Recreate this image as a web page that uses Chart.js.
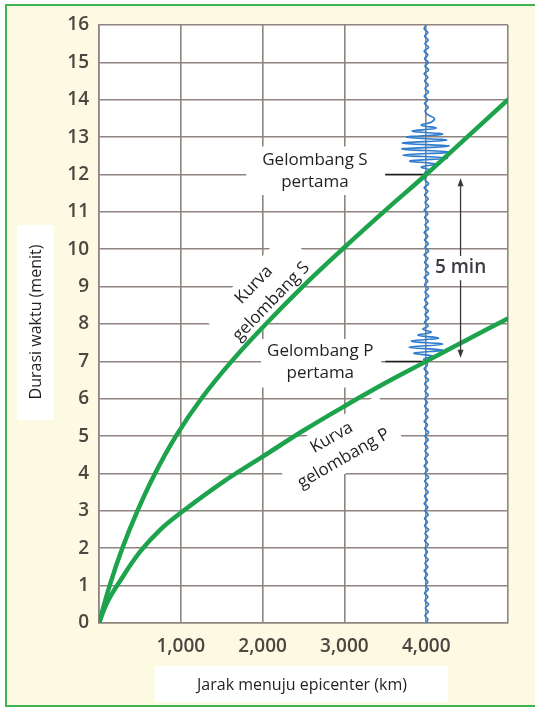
<!DOCTYPE html>
<html>
<head>
<meta charset="utf-8">
<script src="https://cdn.jsdelivr.net/npm/chart.js@4.4.0/dist/chart.umd.js"></script>
<style>
  html, body { margin: 0; padding: 0; background: #fff; }
  #frame {
    position: absolute; left: 5px; top: 4px; width: 560px; height: 699px;
    border: 2px solid #3fb54f; background: #fcfae3;
  }
  #chart { position: absolute; left: 0; top: 0; }
</style>
</head>
<body>
<div id="frame"></div>
<canvas id="chart" width="535" height="708"></canvas>
<script>
// Axis ticks
const xTickLabels = ['', '1,000', '2,000', '3,000', '4,000', '']
const yTickLabels = ['0', '1', '2', '3', '4', '5', '6', '7', '8', '9', '10', '11', '12', '13', '14', '15', '16']

// Kurva gelombang S (jarak km, waktu menit)
const sDist = [0, 130, 285, 470, 685, 940, 1250, 1620, 2040, 2490, 2975, 3480, 4000, 4500, 5000]
const sTime = [0, 1, 2, 3, 4, 5, 6, 7, 8, 9, 10, 11, 12, 13, 14]

// Kurva gelombang P
const pDist = [0, 100, 250, 500, 750, 1000, 1500, 2000, 2500, 3000, 3500, 4000, 4500, 5000]
const pTime = [0, 0.55, 1.1, 1.9, 2.5, 2.95, 3.75, 4.45, 5.15, 5.8, 6.42, 7.0, 7.58, 8.15]

// Seismogram di stasiun 4,000 km: waktu (menit) dan simpangan (km)
const seisStation = 4000
const seisTime = [
  0, 0.1, 0.2, 0.3, 0.4, 0.5, 0.6, 0.7, 0.8, 0.9, 1.0, 1.1, 1.2, 1.3, 1.4, 1.5, 1.6, 1.7, 1.8, 1.9,
  2.0, 2.1, 2.2, 2.3, 2.4, 2.5, 2.6, 2.7, 2.8, 2.9, 3.0, 3.1, 3.2, 3.3, 3.4, 3.5, 3.6, 3.7, 3.8, 3.9,
  4.0, 4.1, 4.2, 4.3, 4.4, 4.5, 4.6, 4.7, 4.8, 4.9, 5.0, 5.1, 5.2, 5.3, 5.4, 5.5, 5.6, 5.7, 5.8, 5.9,
  6.0, 6.1, 6.2, 6.3, 6.4, 6.5, 6.6, 6.7, 6.8, 6.9, 7.0,
  7.06, 7.14, 7.22, 7.3, 7.38, 7.46, 7.54, 7.62, 7.7, 7.78, 7.86,
  7.95, 8.05, 8.15, 8.25, 8.35, 8.45, 8.55, 8.65, 8.75, 8.85, 8.95, 9.05, 9.15, 9.25, 9.35, 9.45,
  9.55, 9.65, 9.75, 9.85, 9.95, 10.05, 10.15, 10.25, 10.35, 10.45, 10.55, 10.65, 10.75, 10.85,
  10.95, 11.05, 11.15, 11.25, 11.35, 11.45, 11.55, 11.65, 11.75, 11.85, 11.95,
  12.05, 12.12, 12.2, 12.28, 12.36, 12.44, 12.52, 12.6, 12.68, 12.76, 12.84, 12.92, 13.0, 13.08,
  13.16, 13.24, 13.32,
  13.4, 13.5, 13.6, 13.7, 13.8, 13.9, 14.0, 14.1, 14.2, 14.3, 14.4, 14.5, 14.6, 14.7, 14.8, 14.9,
  15.0, 15.1, 15.2, 15.3, 15.4, 15.5, 15.6, 15.7, 15.8, 15.9, 16.0
]
const seisOffset = [
  0, 20, -15, 25, -10, 30, -15, 20, -20, 25, -10, 20, -20, 15, -25, 20, -15, 25, -20, 15,
  -15, 25, -20, 20, -15, 30, -20, 15, -20, 25, -15, 20, -25, 15, -20, 25, -15, 20, -20, 30,
  -15, 20, -25, 15, -20, 25, -15, 20, -20, 25, -15, 30, -20, 15, -25, 20, -15, 25, -20, 15,
  -20, 25, -15, 20, -20, 30, -15, 20, -25, 15, 0,
  -30, 80, -150, 200, -210, 200, -180, 150, -100, 60, -40,
  25, -20, 30, -15, 25, -25, 20, -20, 30, -15, 25, -20, 20, -25, 30, -15,
  25, -20, 20, -25, 30, -15, 25, -20, 20, -25, 30, -15, 25, -20,
  20, -25, 30, -15, 25, -20, 20, -25, 30, -15, 0,
  -20, 40, -60, 120, -200, 260, -280, 290, -300, 280, -290, 250, -240, 200,
  -170, 120, -60,
  60, 100, 20, -15, 25, -20, 20, -25, 30, -15, 25, -20, 20, -25, 30, -15,
  25, -20, 20, -25, 30, -15, 25, -20, 20, -25, 0
]

// Garis penunjuk kedatangan gelombang pertama
const leaderDist = [3500, 4000]
const firstS = 12
const firstP = 7

const GREEN = '#1da34c'
const GRID = '#8e8480'
const TICK = '#4e4540'
const INK = '#231f20'
const FONT = "'Open Sans', 'Noto Sans', sans-serif"

function toPoints(xs, ys) {
  return xs.map((x, i) => ({ x: x, y: ys[i] }))
}

// Label di dalam grafik (posisi dalam satuan data)
const plotLabels = [
  { lines: ['Gelombang S', 'pertama'], x: 2640, y: 12.08, box: [1800, 3500, 11.45, 12.75] },
  { lines: ['Gelombang P', 'pertama'], x: 2705, y: 6.98, box: [1980, 3450, 6.3, 7.6] }
]
const curveLabels = [
  { lines: ['Kurva', 'gelombang S'], x: 2000, y: 8.82, angle: -46, w: 118, h: 52 },
  { lines: ['Kurva', 'gelombang P'], x: 2918, y: 4.68, angle: -30, w: 122, h: 52 }
]

const overlay = {
  id: 'overlay',
  beforeDraw(chart) {
    const { ctx, chartArea: a } = chart
    ctx.save()
    ctx.fillStyle = '#ffffff'
    ctx.fillRect(a.left, a.top, a.right - a.left, a.bottom - a.top)
    ctx.restore()
  },
  beforeDatasetsDraw(chart) {
    const { ctx, scales: { x, y } } = chart
    ctx.save()
    ctx.font = '17px ' + FONT
    ctx.textAlign = 'center'
    ctx.textBaseline = 'middle'
    plotLabels.forEach(l => {
      const [x0, x1, y0, y1] = l.box
      ctx.fillStyle = '#ffffff'
      ctx.fillRect(x.getPixelForValue(x0), y.getPixelForValue(y1),
        x.getPixelForValue(x1) - x.getPixelForValue(x0), y.getPixelForValue(y0) - y.getPixelForValue(y1))
      ctx.fillStyle = INK
      const cx = x.getPixelForValue(l.x), cy = y.getPixelForValue(l.y)
      ctx.fillText(l.lines[0], cx, cy - 11)
      ctx.fillText(l.lines[1], cx, cy + 11)
    })
    curveLabels.forEach(l => {
      ctx.save()
      ctx.translate(x.getPixelForValue(l.x), y.getPixelForValue(l.y))
      ctx.rotate(l.angle * Math.PI / 180)
      ctx.fillStyle = '#ffffff'
      ctx.fillRect(-l.w / 2, -l.h / 2, l.w, l.h)
      ctx.fillStyle = INK
      ctx.fillText(l.lines[0], 0, -12)
      ctx.fillText(l.lines[1], 0, 12)
      ctx.restore()
    })
    ctx.restore()
  },
  afterDatasetsDraw(chart) {
    const { ctx, scales: { x, y } } = chart
    // panah 5 menit
    const ax = x.getPixelForValue(4420)
    const top = y.getPixelForValue(11.9)
    const bot = y.getPixelForValue(7.1)
    const gapTop = y.getPixelForValue(9.82)
    const gapBot = y.getPixelForValue(9.17)
    ctx.save()
    ctx.strokeStyle = '#3a3838'
    ctx.fillStyle = '#3a3838'
    ctx.lineWidth = 1.3
    ctx.beginPath()
    ctx.moveTo(ax, top + 6); ctx.lineTo(ax, gapTop)
    ctx.moveTo(ax, gapBot); ctx.lineTo(ax, bot - 6)
    ctx.stroke()
    ctx.beginPath()
    ctx.moveTo(ax, top); ctx.lineTo(ax - 3, top + 8); ctx.lineTo(ax + 3, top + 8); ctx.closePath()
    ctx.moveTo(ax, bot); ctx.lineTo(ax - 3, bot - 8); ctx.lineTo(ax + 3, bot - 8); ctx.closePath()
    ctx.fill()
    ctx.font = '600 19px ' + FONT
    ctx.textAlign = 'center'
    ctx.textBaseline = 'middle'
    ctx.fillStyle = '#3c3a45'
    ctx.fillText('5 min', ax, y.getPixelForValue(9.52))
    ctx.restore()
  },
  afterDraw(chart) {
    const { ctx } = chart
    ctx.save()
    ctx.fillStyle = '#ffffff'
    ctx.fillRect(155, 666, 293, 36)
    ctx.fillRect(17, 225, 37, 195)
    ctx.fillStyle = INK
    ctx.font = '16px ' + FONT
    ctx.textAlign = 'center'
    ctx.textBaseline = 'middle'
    ctx.fillText('Jarak menuju epicenter (km)', 302, 685)
    ctx.translate(36, 322)
    ctx.rotate(-Math.PI / 2)
    ctx.fillText('Durasi waktu (menit)', 0, 0)
    ctx.restore()
  }
}

new Chart(document.getElementById('chart'), {
  type: 'line',
  data: {
    datasets: [
      {
        label: 'Kurva gelombang S',
        data: toPoints(sDist, sTime),
        borderColor: GREEN,
        borderWidth: 4.5,
        tension: 0.4,
        borderCapStyle: 'round',
        pointRadius: 0,
        order: 1
      },
      {
        label: 'Kurva gelombang P',
        data: toPoints(pDist, pTime),
        borderColor: GREEN,
        borderWidth: 4.5,
        tension: 0.4,
        borderCapStyle: 'round',
        pointRadius: 0,
        order: 1
      },
      {
        label: 'Gelombang S pertama',
        data: toPoints(leaderDist, [firstS, firstS]),
        borderColor: '#1a1a1a',
        borderWidth: 1.5,
        pointRadius: 0,
        order: 2
      },
      {
        label: 'Gelombang P pertama',
        data: toPoints(leaderDist, [firstP, firstP]),
        borderColor: '#1a1a1a',
        borderWidth: 1.5,
        pointRadius: 0,
        order: 2
      },
      {
        label: 'Seismogram',
        data: seisTime.map((t, i) => ({ x: seisStation + seisOffset[i], y: t })),
        borderColor: '#2f7dcc',
        borderWidth: 1.6,
        tension: 0.4,
        pointRadius: 0,
        order: 3
      }
    ]
  },
  options: {
    responsive: false,
    animation: false,
    layout: { padding: { top: 25, right: 27, left: 0, bottom: 0 } },
    plugins: {
      legend: { display: false },
      tooltip: { enabled: false }
    },
    scales: {
      x: {
        type: 'linear',
        min: 0,
        max: 5000,
        afterFit: s => { s.height = 85 },
        grid: { color: GRID, lineWidth: 1.6, drawTicks: false },
        border: { color: GRID, width: 1.6 },
        ticks: {
          stepSize: 1000,
          autoSkip: false,
          maxRotation: 0,
          padding: 12,
          color: TICK,
          font: { family: FONT, size: 19, weight: '600' },
          callback: (v, i) => xTickLabels[i]
        }
      },
      y: {
        min: 0,
        max: 16,
        afterFit: s => { s.width = 99 },
        grid: { color: GRID, lineWidth: 1.6, drawTicks: false },
        border: { color: GRID, width: 1.6 },
        ticks: {
          stepSize: 1,
          autoSkip: false,
          padding: 10,
          color: TICK,
          font: { family: FONT, size: 19, weight: '600' },
          callback: (v, i) => yTickLabels[i]
        }
      }
    }
  },
  plugins: [overlay]
})
</script>
</body>
</html>
